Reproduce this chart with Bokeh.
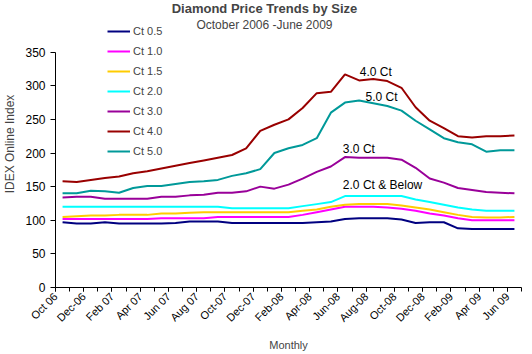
from bokeh.plotting import figure
from bokeh.models import Range1d, FixedTicker, Legend, LegendItem, Label
from bokeh.embed import file_html
from bokeh.resources import INLINE
from bokeh.core.properties import value

FONT = "Liberation Sans"

# ---- data (monthly, Oct 2006 .. Jun 2009) ----
months = ["Oct 06", "Nov-06", "Dec-06", "Jan-07", "Feb 07", "Mar-07", "Apr 07", "May-07",
          "Jun 07", "Jul-07", "Aug 07", "Sep-07", "Oct-07", "Nov-07", "Dec-07", "Jan-08",
          "Feb-08", "Mar-08", "Apr-08", "May-08", "Jun-08", "Jul-08", "Aug-08", "Sep-08",
          "Oct-08", "Nov-08", "Dec-08", "Jan-09", "Feb-09", "Mar-09", "Apr 09", "May-09", "Jun 09"]

ct05 = [97, 95, 95, 97, 95, 95, 95, 95, 96, 98, 98, 98, 96, 96, 96, 96, 96, 96, 97, 98,
        102, 103, 103, 103, 101, 96, 97, 97, 88, 87, 87, 87, 87]
ct10 = [102, 102, 102, 102, 102, 102, 102, 103, 103, 103, 103, 105, 105, 105, 105, 105, 105,
        108, 112, 116, 120, 120, 120, 119, 117, 114, 110, 107, 103, 100, 100, 100, 100]
ct15 = [105, 106, 107, 107, 108, 108, 108, 110, 110, 111, 112, 112, 112, 112, 112, 112, 112,
        114, 116, 120, 123, 124, 124, 124, 122, 119, 116, 112, 108, 105, 104, 104, 105]
ct20 = [120, 120, 120, 120, 120, 120, 120, 120, 120, 120, 120, 120, 118, 118, 118, 118, 118,
        121, 124, 127, 136, 136, 136, 136, 136, 131, 127, 123, 119, 116, 114, 114, 114]
ct30 = [134, 135, 135, 132, 132, 132, 132, 135, 135, 137, 138, 141, 141, 143, 150, 147, 153,
        162, 172, 180, 194, 193, 193, 193, 190, 178, 162, 156, 148, 145, 142, 141, 140]
ct40 = [158, 157, 160, 163, 165, 170, 173, 177, 181, 185, 189, 193, 197, 207, 233, 242, 250,
        267, 289, 291, 317, 308, 310, 307, 297, 268, 248, 237, 225, 223, 225, 225, 226]
ct50 = [140, 140, 144, 143, 141, 148, 151, 151, 154, 157, 158, 160, 166, 170, 176, 200, 207,
        212, 222, 260, 275, 278, 274, 270, 263, 248, 235, 222, 216, 213, 202, 204, 204]

series_names = ["Ct 0.5", "Ct 1.0", "Ct 1.5", "Ct 2.0", "Ct 3.0", "Ct 4.0", "Ct 5.0"]
series_values = [ct05, ct10, ct15, ct20, ct30, ct40, ct50]
series_colors = ["#000080", "#FF00FF", "#FFCC00", "#00FFFF", "#990099", "#990000", "#009999"]

tick_labels = ["Oct 06", "Dec-06", "Feb 07", "Apr 07", "Jun 07", "Aug 07", "Oct-07", "Dec-07",
               "Feb-08", "Apr-08", "Jun-08", "Aug-08", "Oct-08", "Dec-08", "Feb-09", "Apr 09", "Jun 09"]

ann_text = ["4.0 Ct", "5.0 Ct", "3.0 Ct", "2.0 Ct & Below"]
ann_x = [21.55, 21.95, 20.35, 20.35]
ann_y = [321, 284, 206, 152]

n = len(months)
# each month occupies one unit; the point sits in the middle of its slot
xs = [i + 0.5 for i in range(n)]

Y_TOP = 350
# extra head-room above 350 so the titles and legend live inside the frame
y_end = Y_TOP * 289.0 / 237.0

p = figure(width=532, height=354, output_backend="svg", toolbar_location=None,
           x_range=Range1d(0, n), y_range=Range1d(0, y_end),
           min_border_left=53, min_border_right=11, min_border_top=0, min_border_bottom=65)
p.outline_line_color = None
p.grid.visible = False
p.background_fill_color = "white"
p.border_fill_color = "white"

# x axis
p.xaxis.ticker = FixedTicker(ticks=list(range(0, n, 2)), minor_ticks=list(range(n + 1)))
p.xaxis.major_label_overrides = {i: lab for i, lab in zip(range(0, n, 2), tick_labels)}
p.xaxis.major_label_orientation = 0.785398
p.xaxis.major_tick_line_color = "black"
p.xaxis.major_tick_out = 4
p.xaxis.major_tick_in = 0
p.xaxis.minor_tick_out = 4
p.xaxis.minor_tick_in = 0
p.xaxis.minor_tick_line_color = "black"
p.xaxis.major_label_standoff = 3
p.xaxis.major_label_text_font = FONT
p.xaxis.major_label_text_font_size = "11px"
p.xaxis.major_label_text_color = "black"
p.xaxis.axis_label = "Monthly"
p.xaxis.axis_label_text_font = FONT
p.xaxis.axis_label_text_font_size = "11px"
p.xaxis.axis_label_text_font_style = "normal"
p.xaxis.axis_label_standoff = 8
p.xaxis.axis_line_color = "black"

# y axis
p.yaxis.ticker = FixedTicker(ticks=list(range(0, Y_TOP + 1, 50)))
p.yaxis.bounds = (0, Y_TOP)
p.yaxis.minor_tick_line_color = None
p.yaxis.major_tick_out = 5
p.yaxis.major_tick_in = 0
p.yaxis.major_label_standoff = 5
p.yaxis.major_label_text_font = FONT
p.yaxis.major_label_text_font_size = "12px"
p.yaxis.major_label_text_color = "black"
p.yaxis.axis_label = "IDEX Online Index"
p.yaxis.axis_label_text_font = FONT
p.yaxis.axis_label_text_font_size = "12px"
p.yaxis.axis_label_text_font_style = "normal"
p.yaxis.axis_label_standoff = 5
p.yaxis.axis_line_color = "black"

items = []
for name, vals, col in zip(series_names, series_values, series_colors):
    r = p.line(xs, vals, line_color=col, line_width=2)
    items.append(LegendItem(label=name, renderers=[r]))

legend = Legend(items=items, location=(52, 126), orientation="vertical",
                glyph_width=23, glyph_height=20, label_height=20, spacing=0,
                padding=0, margin=0, label_standoff=3,
                background_fill_alpha=0, border_line_color=None,
                label_text_font=FONT, label_text_font_size="11px")
p.add_layout(legend, "center")

p.text(x=ann_x, y=ann_y, text=ann_text, text_font=value(FONT), text_font_size="12px",
       text_baseline="middle", text_align="left", text_color="black")

p.add_layout(Label(x=209, y=279, x_units="screen", y_units="screen",
                   text="Diamond Price Trends by Size", text_font=FONT,
                   text_font_size="13px", text_font_style="bold",
                   text_align="center", text_baseline="middle"))
p.add_layout(Label(x=209, y=263, x_units="screen", y_units="screen",
                   text="October 2006 -June 2009", text_font=FONT,
                   text_font_size="12px",
                   text_align="center", text_baseline="middle"))

open("out.html", "w").write(file_html(p, INLINE))
